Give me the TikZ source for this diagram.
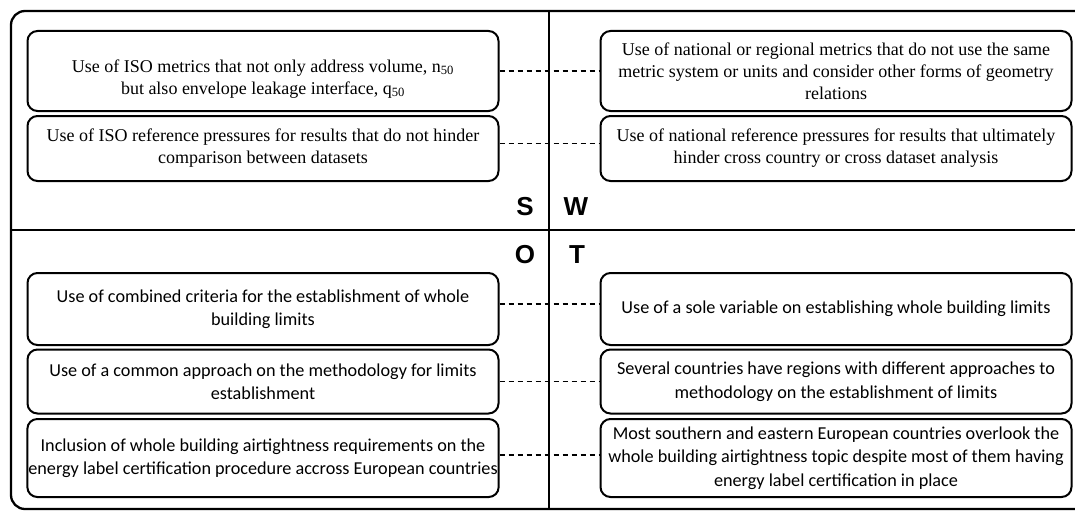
\documentclass[tikz,border=0pt]{standalone}
\usepackage{fontspec}
\setmainfont{Liberation Serif}
\newfontfamily\calibfont{Carlito}
\newfontfamily\arialfont{Liberation Sans}
\begin{document}
\begin{tikzpicture}[x=1pt,y=-1pt,
  sbox/.style={draw, line width=2pt, rounded corners=10pt, minimum width=471pt, align=center, inner xsep=1pt, inner ysep=2pt},
  serif/.style={font=\fontsize{18}{22}\selectfont},
  sans/.style={font=\calibfont\fontsize{18.2}{23.5}\selectfont},
  letter/.style={font=\arialfont\bfseries\fontsize{26}{26}\selectfont, inner sep=0pt},
  link/.style={line width=1.2pt, dash pattern=on 5pt off 4pt},
  frame/.style={line width=2.3pt}]
\useasboundingbox (0,0) rectangle (1075,511);
\clip (0,0) rectangle (1075,511);
% frame and dividers
\draw[frame, rounded corners=14pt] (1090,11) -- (11,11) -- (11,509) -- (1090,509);
\draw[frame] (549,11) -- (549,509);
\draw[frame] (11,230) -- (1090,230);
% quadrant letters
\node[letter] (S) at (525,207) {S};
\node[letter] (W) at (576,207) {W};
\node[letter] (O) at (525,255) {O};
\node[letter] (T) at (577,255) {T};
% strengths
\node[sbox, serif, minimum height=80pt] (s1) at (263,71) {\rule{0pt}{28pt}Use of ISO metrics that not only address volume, n\textsubscript{50}\\ but also envelope leakage interface, q\textsubscript{50}};
\node[sbox, serif, minimum height=65pt] (s2) at (263,148.5) {Use of ISO reference pressures for results that do not hinder\\ comparison between datasets};
% weaknesses
\node[sbox, serif, minimum height=80pt] (w1) at (836,71) {Use of national or regional metrics that do not use the same\\ metric system or units and consider other forms of geometry\\ relations};
\node[sbox, serif, minimum height=65pt] (w2) at (836,148.5) {Use of national reference pressures for results that ultimately\\ hinder cross country or cross dataset analysis};
% opportunities
\node[sbox, sans, minimum height=72pt] (o1) at (263,309) {Use of combined criteria for the establishment of whole\\ building limits};
\node[sbox, sans, minimum height=64pt] (o2) at (263,381.5) {Use of a common approach on the methodology for limits\\ establishment};
\node[sbox, sans, minimum height=78pt] (o3) at (263,458) {Inclusion of whole building airtightness requirements on the\\ energy label certification procedure accross European countries};
% threats
\node[sbox, sans, minimum height=72pt] (t1) at (836,309) {Use of a sole variable on establishing whole building limits};
\node[sbox, sans, minimum height=64pt] (t2) at (836,381.5) {Several countries have regions with different approaches to\\ methodology on the establishment of limits};
\node[sbox, sans, minimum height=78pt] (t3) at (836,458) {Most southern and eastern European countries overlook the\\ whole building airtightness topic despite most of them having\\ energy label certification in place};
% dashed links
\draw[link] (s1.east) -- (w1.west);
\draw[link] ([yshift=5pt]s2.east) -- ([yshift=5pt]w2.west);
\draw[link] ([yshift=5pt]o1.east) -- ([yshift=5pt]t1.west);
\draw[link] (o2.east) -- (t2.west);
\draw[link] ([yshift=3pt]o3.east) -- ([yshift=3pt]t3.west);
\end{tikzpicture}
\end{document}
